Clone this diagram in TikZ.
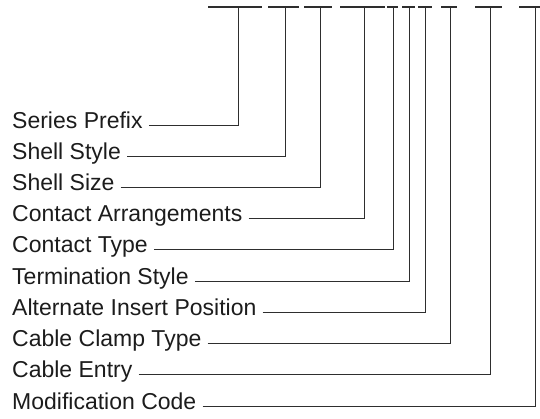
\documentclass[tikz,border=0pt]{standalone}
\usepackage{fontspec}
\setmainfont{Liberation Sans}
\usepackage{xcolor}
\usetikzlibrary{positioning}
\definecolor{ink}{HTML}{1C1C1C}
\definecolor{wire}{HTML}{2E2E2E}

\begin{document}
\begin{tikzpicture}[
  x=1pt,
  y=-1pt,
  field/.style={anchor=west, inner xsep=0pt, inner ysep=0pt, text height=0.8em, text depth=0.2em, font=\fontsize{23}{27}\selectfont, text=ink},
  lead/.style={draw=wire, line width=0.9pt, shorten <=6pt},
  bar/.style={draw=wire, line width=1.4pt}
]
  \useasboundingbox (0,0) rectangle (540,418);

  % code positions along the top
  \coordinate (prefixtop) at (238,7);
  \coordinate (styletop) at (285,7);
  \coordinate (sizetop) at (320,7);
  \coordinate (arrtop) at (364,7);
  \coordinate (typetop) at (393,7);
  \coordinate (termtop) at (409,7);
  \coordinate (alttop) at (425,7);
  \coordinate (clamptop) at (450,7);
  \coordinate (entrytop) at (490,7);
  \coordinate (modtop) at (535,7);

  \draw[bar] (208,7) -- (262,7);
  \draw[bar] (268,7) -- (299,7);
  \draw[bar] (304,7) -- (332,7);
  \draw[bar] (340,7) -- (385,7);
  \draw[bar] (387,7) -- (398,7);
  \draw[bar] (402,7) -- (415,7);
  \draw[bar] (418,7) -- (432,7);
  \draw[bar] (441,7) -- (457,7);
  \draw[bar] (475,7) -- (502,7);
  \draw[bar] (519,7) -- (540,7);

  \node[field] (prefix) at (12,125) {Series Prefix};
  \node[field] (style) at (12,156) {Shell Style};
  \node[field] (size) at (12,187) {Shell Size};
  \node[field] (arr) at (12,218.5) {Contact Arrangements};
  \node[field] (type) at (12,249.5) {Contact Type};
  \node[field] (term) at (12,281) {Termination Style};
  \node[field] (alt) at (12,312.5) {Alternate Insert Position};
  \node[field] (clamp) at (12,343.5) {Cable Clamp Type};
  \node[field] (entry) at (12,374.5) {Cable Entry};
  \node[field] (mod) at (12,406) {Modification Code};

  \draw[lead] (prefix) -| (prefixtop);
  \draw[lead] (style) -| (styletop);
  \draw[lead] (size) -| (sizetop);
  \draw[lead] (arr) -| (arrtop);
  \draw[lead] (type) -| (typetop);
  \draw[lead] (term) -| (termtop);
  \draw[lead] (alt) -| (alttop);
  \draw[lead] (clamp) -| (clamptop);
  \draw[lead] (entry) -| (entrytop);
  \draw[lead] (mod) -| (modtop);
\end{tikzpicture}
\end{document}
